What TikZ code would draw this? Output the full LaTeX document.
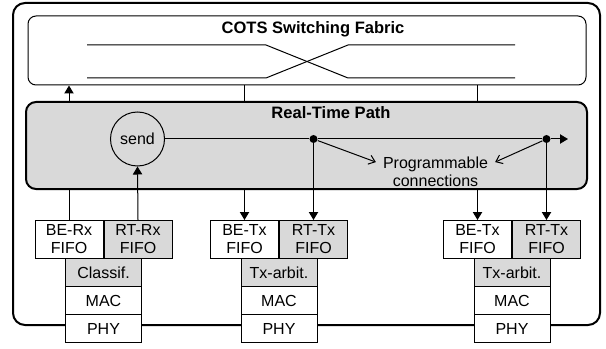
\documentclass[tikz,border=0pt]{standalone}
\usepackage{fontspec}
\setmainfont{Liberation Sans}
\usetikzlibrary{arrows.meta,calc}

\begin{document}
\begin{tikzpicture}[x=0.75pt,y=-0.75pt,
        font=\fontsize{12}{13.5}\selectfont, line width=0.75pt,
        >={Triangle[length=6pt,width=7pt]},
        fifo/.style={draw, minimum width=51pt, minimum height=28.5pt, inner sep=0pt, align=center},
        layer/.style={draw, fill=white, minimum width=57pt, minimum height=21pt, inner sep=0pt},
        rt/.style={fill=gray!30},
        title/.style={font=\fontsize{12.4}{13.5}\selectfont\bfseries},
        dot/.style={circle, fill, inner sep=0pt, minimum size=6pt},
        prog/.style={-{Straight Barb[length=4.5pt,width=7pt]}}]
        \useasboundingbox (0,0) rectangle (606,349);
        % outer box
        \draw[line width=1.5pt, rounded corners=9pt] (13,3) rectangle (600,325);
        % switching fabric
        \node[draw, rounded corners=6pt, minimum width=418.5pt, minimum height=51.75pt] (fabric) at (307,50.5) {};
        \node[title] (fabtitle) at (313,29) {COTS Switching Fabric};
        \draw (87,45) -- (266,45) -- (348,78) -- (515,78);
        \draw (87,78) -- (266,78) -- (348,45) -- (515,45);
        % rx port
        \node[fifo, anchor=north east] (berx) at (103.5,220) {BE-Rx\\FIFO};
        \node[fifo, rt, anchor=north west] (rtrx) at (103.5,220) {RT-Rx\\FIFO};
        \node[layer, rt, anchor=north] (classif) at (103.5,258) {Classif.};
        \node[layer, anchor=north] (macrx) at (103.5,286) {MAC};
        \node[layer, anchor=north] (phyrx) at (103.5,314) {PHY};
        % first tx port
        \node[fifo, anchor=north east] (betxa) at (279,220) {BE-Tx\\FIFO};
        \node[fifo, rt, anchor=north west] (rttxa) at (279,220) {RT-Tx\\FIFO};
        \node[layer, rt, anchor=north] (arbita) at (279,258) {Tx-arbit.};
        \node[layer, anchor=north] (maca) at (279,286) {MAC};
        \node[layer, anchor=north] (phya) at (279,314) {PHY};
        % second tx port
        \node[fifo, anchor=north east] (betxb) at (512,220) {BE-Tx\\FIFO};
        \node[fifo, rt, anchor=north west] (rttxb) at (512,220) {RT-Tx\\FIFO};
        \node[layer, rt, anchor=north] (arbitb) at (512,258) {Tx-arbit.};
        \node[layer, anchor=north] (macb) at (512,286) {MAC};
        \node[layer, anchor=north] (phyb) at (512,314) {PHY};
        % best effort traffic
        \draw[->] (berx.north) -- (berx.north |- fabric.south);
        \draw[->] (betxa.north |- fabric.south) -- (betxa.north);
        \draw[->] (betxb.north |- fabric.south) -- (betxb.north);
        % real-time path
        \node[draw, rt, line width=1.5pt, rounded corners=7.5pt, minimum width=420.75pt, minimum height=65.25pt] (rtpath) at (306.5,145.5) {};
        \node[title] (rttitle) at (331,113) {Real-Time Path};
        \node[draw, circle, minimum size=40.5pt, inner sep=0pt] (send) at (137.5,139) {send};
        \node[dot] (tapa) at (rttxa.north |- send) {};
        \node[dot] (tapb) at (rttxb.north |- send) {};
        \coordinate (rtout) at (568,139);
        \draw[->] (send) -- (tapa) -- (tapb) -- (rtout);
        \draw[->] (rtrx.north) -- (send.south);
        \draw[->] (tapa) -- (rttxa.north);
        \draw[->] (tapb) -- (rttxb.north);
        \node[align=center, inner xsep=5pt] (progconn) at (435.5,172) {Programmable\\connections};
        \draw[prog] (tapa) -- ($(progconn.north west)!.25!(progconn.south west)$);
        \draw[prog] (tapb) -- ($(progconn.north east)!.25!(progconn.south east)$);
    \end{tikzpicture}
\end{document}
